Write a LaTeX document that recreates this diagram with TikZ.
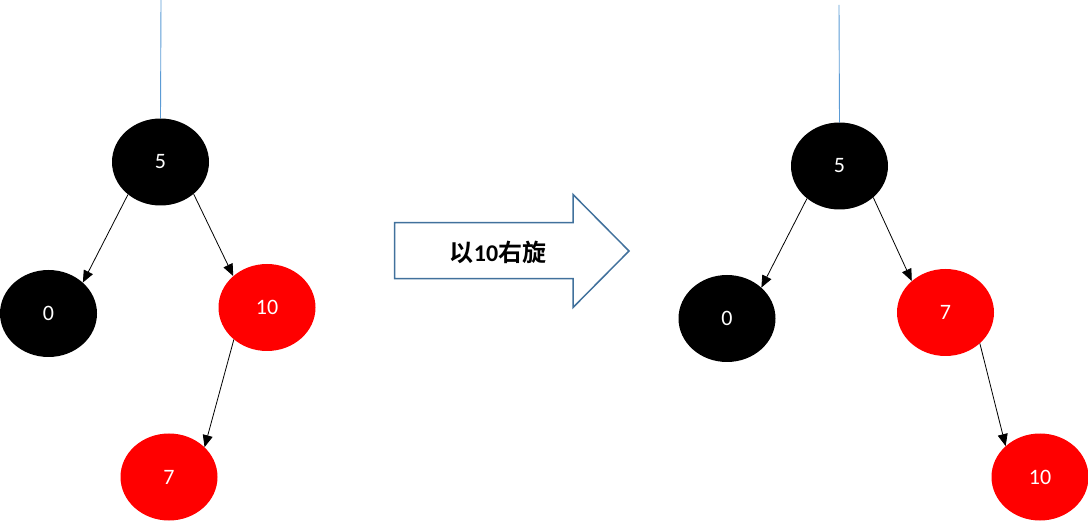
\documentclass[tikz,border=0pt]{standalone}
\usepackage{fontspec}
\setmainfont{Carlito}
\newfontfamily\cjk{Noto Sans CJK SC}[BoldFont={* Bold}]
\usetikzlibrary{shapes.geometric,arrows.meta}
\definecolor{nodered}{HTML}{FF0000}
\definecolor{toplink}{HTML}{5B9BD5}
\definecolor{arrowblue}{HTML}{41719C}
\begin{document}
\begin{tikzpicture}[x=1pt,y=-1pt,
  rb/.style={ellipse,minimum width=97pt,minimum height=87pt,inner sep=0pt,
    text=white,font=\fontsize{22}{26}\selectfont},
  blk/.style={rb,fill=black},
  rd/.style={rb,fill=nodered},
  edge/.style={draw=black,line width=0.8pt,-{Triangle[length=12pt,width=10pt]}},
  link/.style={draw=toplink,line width=0.9pt}]
\useasboundingbox (0,0) rectangle (1088,521);
% left tree
\node[blk] (l5) at (160.5,162) {5};
\node[blk] (l0) at (48.5,313.5) {0};
\node[rd] (l10) at (267,307.5) {10};
\node[rd] (l7) at (169,477) {7};
\coordinate (ltop) at (161,0);
\draw[link] (ltop) -- (l5.north);
\draw[edge] (l5.225) -- (l0.42);
\draw[edge] (l5.316) -- (l10.137);
\draw[edge] (l10.224) -- (l7.40);
% right tree
\node[blk] (r5) at (839.5,166) {5};
\node[blk] (r0) at (727,318.5) {0};
\node[rd] (r7) at (945.5,312.5) {7};
\node[rd] (r10) at (1040,477) {10};
\coordinate (rtop) at (839,5);
\draw[link] (rtop) -- (r5.north);
\draw[edge] (r5.225) -- (r0.42);
\draw[edge] (r5.317) -- (r7.137);
\draw[edge] (r7.318) -- (r10.138);
% big arrow
\draw[draw=arrowblue,fill=white,line width=1.5pt,line join=miter]
  (394.5,222.7) -- (573,222.7) -- (573,194.5) -- (629,251) -- (573,307.5)
  -- (573,278.7) -- (394.5,278.7) -- cycle;
\node[font=\fontsize{24}{28}\selectfont\bfseries] (lbl) at (498,252)
  {{\cjk 以}10{\cjk 右旋}};
\end{tikzpicture}
\end{document}
